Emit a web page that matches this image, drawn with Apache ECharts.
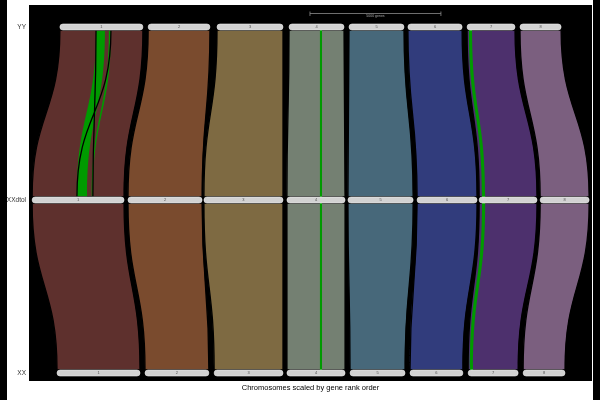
<!DOCTYPE html>
<html>
<head>
<meta charset="utf-8">
<script src="https://cdn.jsdelivr.net/npm/echarts@6/dist/echarts.min.js"></script>
<style>
html,body{margin:0;padding:0;background:#fff;}
#c{width:600px;height:400px;}
</style>
</head>
<body>
<div id="c"></div>
<script>
// ---------------- data (gene rank positions) ----------------
const genomes = ['XX', 'XXdtol', 'YY'];          // y = 0, 1, 2
const chroms = ['1', '2', '3', '4', '5', '6', '7', '8'];

const yyStart  = [1180, 4550, 7180, 9930, 12220, 14470, 16730, 18750];
const yyEnd    = [4350, 6910, 9700, 12030, 14320, 16540, 18560, 20320];
const xxdStart = [120, 3780, 6680, 9850, 12180, 14820, 17190, 19520];
const xxdEnd   = [3630, 6610, 9700, 12070, 14670, 17110, 19400, 21390];
const xxStart  = [1070, 4430, 7070, 9850, 12260, 14550, 16770, 18870];
const xxEnd    = [4240, 6870, 9700, 12070, 14360, 16570, 18680, 20470];

// highlighted syntenic blocks: [genomeA, startA, endA, genomeB, startB, endB]
const highlightBlocks = [
  [2, 2560, 2900, 1, 1830, 2220],
  [2, 3050, 3130, 1, 2400, 2440],
  [2, 11110, 11190, 1, 11110, 11190],
  [1, 11110, 11190, 0, 11110, 11190],
  [2, 16800, 16920, 1, 17300, 17420],
  [1, 17300, 17420, 0, 16840, 16960]
];
// inverted block outline: [genomeA, startA, endA, genomeB, startB, endB]
const inversionBlocks = [
  [2, 2560, 3130, 1, 1830, 2440]
];

const scaleStart = 10730;
const scaleGenes = 5000;
const scaleLabel = '5000 genes';

// ---------------- styles ----------------
const chromColors = ['#5e302d', '#7a4b2e', '#7e6a42', '#748072', '#47687a', '#313c7c', '#4d306d', '#7b5f7f'];
const hlColor = '#009a00';
const barHalf = 3;

const genomeStarts = [xxStart, xxdStart, yyStart];
const genomeEnds = [xxEnd, xxdEnd, yyEnd];

// chromosome ribbons between adjacent genomes
const ribbons = [];
for (let g = 2; g >= 1; g--) {
  for (let i = 0; i < chroms.length; i++) {
    ribbons.push([genomeStarts[g][i], genomeEnds[g][i], g, genomeStarts[g - 1][i], genomeEnds[g - 1][i], g - 1, i]);
  }
}
const bars = [];
for (let g = 0; g < 3; g++) {
  for (let i = 0; i < chroms.length; i++) bars.push([genomeStarts[g][i], genomeEnds[g][i], g, i]);
}

function ribbonPath(api, a0, a1, ya, b0, b1, yb, inverted) {
  const pa0 = api.coord([a0, ya]), pa1 = api.coord([a1, ya]);
  const pb0 = api.coord([b0, yb]), pb1 = api.coord([b1, yb]);
  const yt = pa0[1] + barHalf, ybt = pb0[1] - barHalf, ym = (yt + ybt) / 2;
  const L = inverted ? pb1[0] : pb0[0];
  const R = inverted ? pb0[0] : pb1[0];
  return 'M' + pa0[0] + ' ' + yt +
    ' C' + pa0[0] + ' ' + ym + ' ' + L + ' ' + ym + ' ' + L + ' ' + ybt +
    ' L' + R + ' ' + ybt +
    ' C' + R + ' ' + ym + ' ' + pa1[0] + ' ' + ym + ' ' + pa1[0] + ' ' + yt + ' Z';
}

const chart = echarts.init(document.getElementById('c'), null, {renderer: 'canvas'});
const FONT = 'Liberation Sans, Arial, sans-serif';

chart.setOption({
  animation: false,
  backgroundColor: '#fff',
  grid: {left: 29, right: 8, top: 5, bottom: 19, show: true, backgroundColor: '#000', borderWidth: 0},
  xAxis: {
    type: 'value', min: 0, max: 21500,
    axisLine: {show: false}, axisTick: {show: false}, axisLabel: {show: false}, splitLine: {show: false},
    name: 'Chromosomes scaled by gene rank order', nameLocation: 'middle', nameGap: 3,
    nameTextStyle: {fontSize: 7.5, color: '#000', fontFamily: FONT, verticalAlign: 'top'}
  },
  yAxis: {
    type: 'value', min: -8 / 173, max: 2 + 22 / 173,
    axisLine: {show: false}, axisTick: {show: false}, splitLine: {show: false},
    axisLabel: {
      customValues: [0, 1, 2], formatter: v => genomes[Math.round(v)],
      fontSize: 6.5, color: '#333', fontFamily: FONT, margin: 3
    }
  },
  graphic: [
    {type: 'rect', left: 0, top: 0, shape: {width: 7, height: 400}, style: {fill: '#000'}, silent: true},
    {type: 'rect', right: 0, top: 0, shape: {width: 7, height: 400}, style: {fill: '#000'}, silent: true}
  ],
  series: [
    {
      type: 'custom', name: 'ribbons', data: ribbons, encode: {x: [0, 1, 3, 4], y: [2, 5]},
      renderItem: (params, api) => {
        const r = ribbons[params.dataIndex];
        return {type: 'path', shape: {pathData: ribbonPath(api, r[0], r[1], r[2], r[3], r[4], r[5], false)},
          style: {fill: chromColors[r[6]], stroke: '#000', lineWidth: 1.3}};
      }
    },
    {
      type: 'custom', name: 'highlight', data: highlightBlocks, encode: {x: [1, 2, 4, 5], y: [0, 3]}, z: 3,
      renderItem: (params, api) => {
        const r = highlightBlocks[params.dataIndex];
        return {type: 'path', shape: {pathData: ribbonPath(api, r[1], r[2], r[0], r[4], r[5], r[3], false)},
          style: {fill: hlColor, stroke: null}};
      }
    },
    {
      type: 'custom', name: 'inversion', data: inversionBlocks, encode: {x: [1, 2, 4, 5], y: [0, 3]}, z: 4,
      renderItem: (params, api) => {
        const r = inversionBlocks[params.dataIndex];
        return {type: 'path', shape: {pathData: ribbonPath(api, r[1], r[2], r[0], r[4], r[5], r[3], true)},
          style: {fill: null, stroke: '#000', lineWidth: 1.3}};
      }
    },
    {
      type: 'custom', name: 'chromosomes', data: bars, encode: {x: [0, 1], y: 2}, z: 5,
      renderItem: (params, api) => {
        const b = bars[params.dataIndex];
        const p0 = api.coord([b[0], b[2]]), p1 = api.coord([b[1], b[2]]);
        return {type: 'group', children: [
          {type: 'rect', shape: {x: p0[0], y: p0[1] - barHalf, width: p1[0] - p0[0], height: barHalf * 2, r: barHalf},
            style: {fill: '#d2d2d2', stroke: '#ececec', lineWidth: 0.6}},
          {type: 'text', x: (p0[0] + p1[0]) / 2, y: p0[1],
            style: {text: chroms[b[3]], fontSize: 4, fill: '#555', align: 'center', verticalAlign: 'middle', fontFamily: FONT}}
        ]};
      }
    },
    {
      type: 'custom', name: 'scale', data: [[scaleStart, scaleStart + scaleGenes, 2 + 13.5 / 173]], encode: {x: [0, 1], y: 2}, z: 6,
      renderItem: (params, api) => {
        const p0 = api.coord([api.value(0), api.value(2)]), p1 = api.coord([api.value(1), api.value(2)]);
        const c = '#8a8a8a';
        return {type: 'group', children: [
          {type: 'line', shape: {x1: p0[0], y1: p0[1], x2: p1[0], y2: p1[1]}, style: {stroke: c, lineWidth: 0.8}},
          {type: 'line', shape: {x1: p0[0], y1: p0[1] - 2, x2: p0[0], y2: p0[1] + 2.5}, style: {stroke: c, lineWidth: 0.8}},
          {type: 'line', shape: {x1: p1[0], y1: p1[1] - 2, x2: p1[0], y2: p1[1] + 2.5}, style: {stroke: c, lineWidth: 0.8}},
          {type: 'text', x: (p0[0] + p1[0]) / 2, y: p0[1] + 2.5,
            style: {text: scaleLabel, fontSize: 3.5, fill: '#aaa', align: 'center', verticalAlign: 'middle', fontFamily: FONT}}
        ]};
      }
    }
  ]
});
</script>
</body>
</html>
